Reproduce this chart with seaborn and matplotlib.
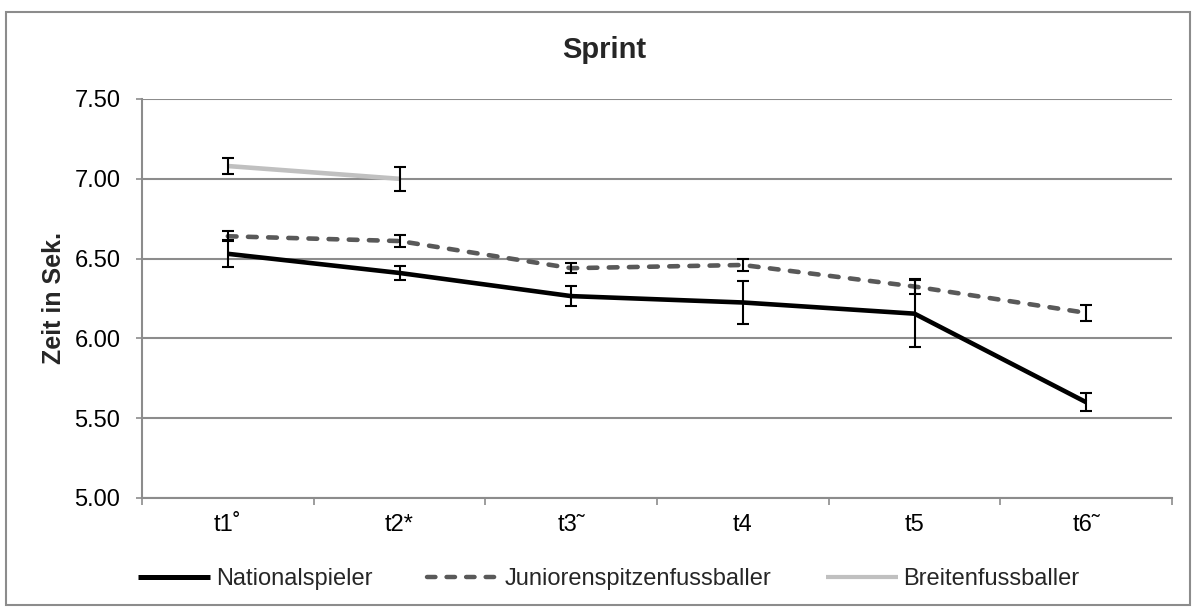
import numpy as np
import pandas as pd
import matplotlib
matplotlib.use("Agg")
import matplotlib.pyplot as plt
from matplotlib.patches import Rectangle
from matplotlib.ticker import FixedLocator, NullFormatter
import seaborn as sns

# ---- data ----
categories = ["t1˚", "t2*", "t3˜", "t4", "t5", "t6˜"]
national = [6.53, 6.41, 6.265, 6.225, 6.155, 5.60]
national_err = [0.085, 0.045, 0.065, 0.135, 0.21, 0.055]
junioren = [6.64, 6.61, 6.44, 6.46, 6.325, 6.16]
junioren_err = [0.03, 0.035, 0.03, 0.037, 0.045, 0.05]
breiten = [7.08, 7.00, np.nan, np.nan, np.nan, np.nan]
breiten_err = [0.05, 0.075, np.nan, np.nan, np.nan, np.nan]
series_names = ["Nationalspieler", "Juniorenspitzenfussballer", "Breitenfussballer"]
yticks = [5.00, 5.50, 6.00, 6.50, 7.00, 7.50]

sns.set_theme(style="white")
plt.rcParams["font.family"] = ["Liberation Sans", "DejaVu Sans"]

pos = np.arange(len(categories))
df = pd.concat([
    pd.DataFrame({"pos": pos, "val": national, "Gruppe": series_names[0]}),
    pd.DataFrame({"pos": pos, "val": junioren, "Gruppe": series_names[1]}),
    pd.DataFrame({"pos": pos, "val": breiten, "Gruppe": series_names[2]}),
]).dropna()

fig = plt.figure(figsize=(11.96, 6.10), dpi=100)
ax = fig.add_axes([142/1196, 1-498/610, (1172-142)/1196, (498-99)/610])

palette = {series_names[0]: "#000000", series_names[1]: "#595959", series_names[2]: "#c0c0c0"}
dashes = {series_names[0]: "", series_names[1]: (1.9, 2.5), series_names[2]: ""}
sns.lineplot(data=df, x="pos", y="val", hue="Gruppe", style="Gruppe",
             palette=palette, dashes=dashes, linewidth=3.3, ax=ax,
             legend=True, sort=False)
widths = {series_names[0]: 3.6, series_names[1]: 3.2, series_names[2]: 3.0}
for line in ax.get_lines():
    line.set_dash_capstyle("round")
    line.set_solid_capstyle("butt")
    lab = line.get_label()
    if lab in widths:
        line.set_linewidth(widths[lab])

for vals, errs in [(breiten, breiten_err), (junioren, junioren_err), (national, national_err)]:
    v = np.array(vals, dtype=float)
    e = np.array(errs, dtype=float)
    m = ~np.isnan(v)
    ax.errorbar(pos[m], v[m], yerr=e[m], fmt="none", ecolor="black",
                elinewidth=1.5, capsize=4.4, capthick=1.5, zorder=5)

ax.set_xlim(-0.5, len(categories) - 0.5)
ax.set_ylim(5.0, 7.5)
ax.set_yticks(yticks)
ax.set_yticklabels([f"{t:.2f}" for t in yticks])
ax.set_xticks(pos)
ax.set_xticklabels(categories)
ax.xaxis.set_minor_locator(FixedLocator(np.arange(-0.5, len(categories), 1.0)))
ax.xaxis.set_minor_formatter(NullFormatter())
ax.tick_params(axis="x", which="major", length=0, pad=11.5, labelsize=17, colors="black")
ax.tick_params(axis="x", which="minor", length=5, width=1.2, color="#8c8c8c", direction="out", bottom=True)
ax.tick_params(axis="y", length=4.5, width=1.2, color="#8c8c8c", direction="out", left=True,
               labelsize=17, labelcolor="black", pad=11)

ax.grid(axis="y", color="#8c8c8c", linewidth=1.5)
ax.set_axisbelow(True)
for s in ["top", "right"]:
    ax.spines[s].set_visible(False)
for s in ["left", "bottom"]:
    ax.spines[s].set_color("#8c8c8c")
    ax.spines[s].set_linewidth(1.5)

ax.set_xlabel("")
ax.set_ylabel("Zeit in Sek.", fontsize=18, fontweight="bold", labelpad=6)

fig.text(604/1196, 1-58/610, "Sprint", ha="center", va="baseline",
         fontsize=21, fontweight="bold")

handles, labels = ax.get_legend_handles_labels()
ax.get_legend().remove()
leg = fig.legend(handles, labels, loc="center left", bbox_to_anchor=(138/1196, 1-579/610),
                 ncol=3, frameon=False, fontsize=17, handlelength=3.05,
                 handletextpad=0.25, columnspacing=2.3, borderaxespad=0, borderpad=0)
for h in leg.get_lines():
    lab = h.get_label()
    h.set_linewidth(widths.get(lab, 3.3))

fig.add_artist(Rectangle((6/1196, 1-605/610), (1190-6)/1196, (605-12)/610,
                         transform=fig.transFigure, fill=False,
                         edgecolor="#8c8c8c", linewidth=1.5))

fig.savefig("out.png", dpi=100)
